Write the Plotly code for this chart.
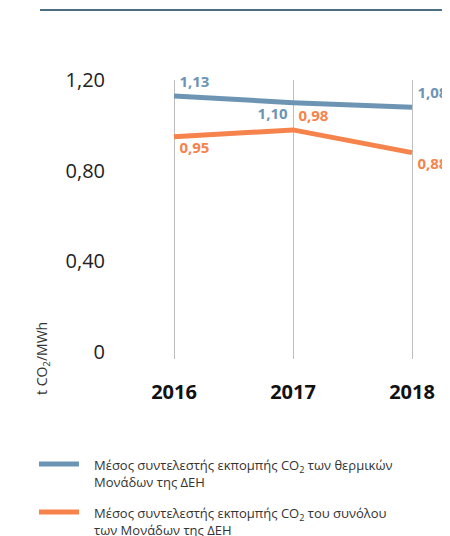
import plotly.graph_objects as go

years = [2016, 2017, 2018]
thermal = [1.13, 1.10, 1.08]
total = [0.95, 0.98, 0.88]
thermal_labels = ["1,13", "1,10", "1,08"]
total_labels = ["0,95", "0,98", "0,88"]
ytick_vals = [0, 0.4, 0.8, 1.2]
ytick_text = ["0", "0,40", "0,80", "1,20"]
name_thermal = "Μέσος συντελεστής εκπομπής CO<sub>2</sub> των θερμικών<br>Μονάδων της ΔΕΗ"
name_total = "Μέσος συντελεστής εκπομπής CO<sub>2</sub> του συνόλου<br>των Μονάδων της ΔΕΗ"

BLUE = "#6d95b3"
ORANGE = "#f5834b"
FONT = "Open Sans, Noto Sans, sans-serif"

OFF = 8  # default page body margin
W, H = 450 - OFF, 536 - OFF
L, T = 114 - OFF, 80 - OFF
PB = 359 - OFF  # plot bottom in figure pixels
R, B = 0, H - PB
pw, ph = W - L - R, H - T - B


def px(x):
    return (x - OFF - L) / pw


def py(y):
    return (PB - (y - OFF)) / ph


fig = go.Figure()
fig.add_trace(go.Scatter(
    x=years, y=thermal, mode="lines+markers+text", name=name_thermal,
    line=dict(color=BLUE, width=5),
    marker=dict(size=7, color="rgba(0,0,0,0)"),
    text=thermal_labels, textposition=["top right", "bottom left", "top right"],
    textfont=dict(family=FONT, size=15, color=BLUE, weight="bold"),
    cliponaxis=False, showlegend=False, hoverinfo="skip",
))
fig.add_trace(go.Scatter(
    x=years, y=total, mode="lines+markers+text", name=name_total,
    line=dict(color=ORANGE, width=5),
    marker=dict(size=7, color="rgba(0,0,0,0)"),
    text=total_labels, textposition=["bottom right", "top right", "bottom right"],
    textfont=dict(family=FONT, size=15, color=ORANGE, weight="bold"),
    cliponaxis=False, showlegend=False, hoverinfo="skip",
))

shapes = [dict(
    type="line", xref="paper", yref="paper",
    x0=px(40), x1=1.0, y0=py(10), y1=py(10),
    line=dict(color="#4b6e83", width=2),
)]
annotations = [dict(
    text="t CO<sub>2</sub>/MWh", textangle=-90,
    xref="paper", yref="paper",
    x=px(42), y=py(359),
    xanchor="center", yanchor="middle", showarrow=False,
    font=dict(size=14, color="#333333", family=FONT),
)]

# manual legend (keeps the plot area fixed)
for ly, name, color in [(464, name_thermal, BLUE), (512, name_total, ORANGE)]:
    shapes.append(dict(
        type="line", xref="paper", yref="paper",
        x0=px(39), x1=px(79), y0=py(ly), y1=py(ly),
        line=dict(color=color, width=5),
    ))
    annotations.append(dict(
        text=name, xref="paper", yref="paper",
        x=px(92), y=py(ly - 10), xanchor="left", yanchor="top",
        align="left", showarrow=False,
        font=dict(size=13, color="#333333", family=FONT),
    ))

fig.update_layout(
    width=W, height=H,
    margin=dict(l=L, r=R, t=T, b=B, autoexpand=False),
    paper_bgcolor="white", plot_bgcolor="white",
    font=dict(family=FONT, color="#222222"),
    showlegend=False,
    xaxis=dict(
        range=[2016 - 60 / 119, 2018 + 38 / 119],
        tickvals=years, ticktext=[str(y) for y in years],
        showgrid=True, gridcolor="#bdbdbd", gridwidth=1,
        zeroline=False, showline=False,
        tickfont=dict(size=20, color="#111111", family=FONT, weight="bold"),
        ticks="", ticklabelstandoff=19, automargin=False,
    ),
    yaxis=dict(
        range=[-0.03, 1.2],
        tickvals=ytick_vals, ticktext=ytick_text,
        showgrid=False, zeroline=False, showline=False,
        tickfont=dict(size=20, color="#222222", family=FONT),
        ticks="", ticklabelstandoff=8, automargin=False,
    ),
    shapes=shapes,
    annotations=annotations,
)

fig.write_html("out.html")
